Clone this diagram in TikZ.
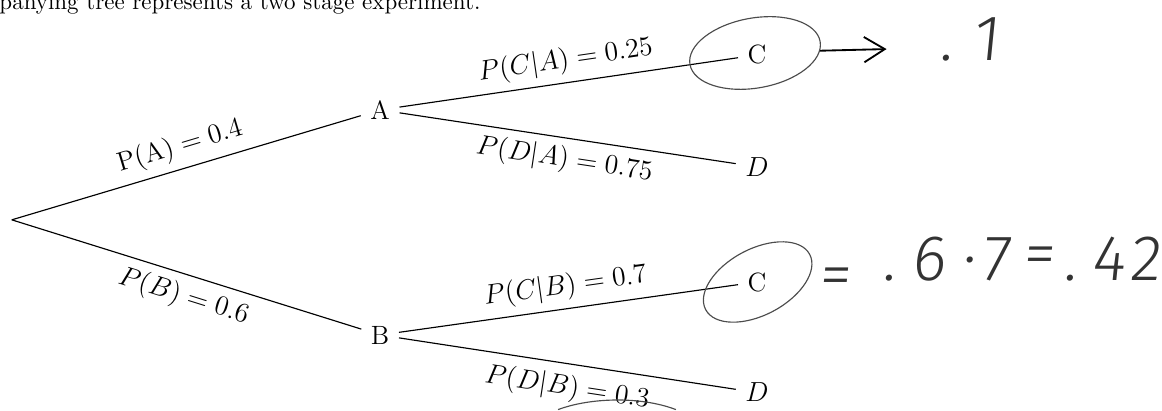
\documentclass[tikz,border=0pt]{standalone}
\usepackage{amsmath,amssymb}
\usepackage{fontspec}
\newfontfamily\handfont[UprightFont={* Light}, FakeSlant=0.1]{Fira Sans}
\usetikzlibrary{arrows.meta,shapes.geometric}

\begin{document}
\begin{tikzpicture}[>=Stealth,
    leaf/.style={inner sep=4pt, font=\fontsize{11.5}{14}\selectfont},
    branch/.style={line width=0.5pt},
    prob/.style={sloped, font=\fontsize{11.5}{14}\selectfont},
    ring/.style={draw=black!70, ellipse, line width=0.5pt},
    pencil/.style={font=\handfont\fontsize{28}{30}\selectfont, text=black!80}]
    \useasboundingbox (0, 0) rectangle (17.76, -6.27);

    % Text above the tree (cut off by the page)
    \node[anchor=base west, inner sep=0pt] (intro) at (-0.015, -0.145)
        {panying tree represents a two stage experiment.};

    % Root and first stage
    \coordinate (O) at (0.18, -3.36);
    \node[leaf] (A) at (5.81, -1.68) {A};
    \node[leaf] (B) at (5.81, -5.12) {B};
    \draw[branch] (O) -- node[prob, above] {$\mathrm{P}(\mathrm{A}) = 0.4$} (A);
    \draw[branch] (O) -- node[prob, below, pos=0.51] {$P(B) = 0.6$} (B);

    % Second stage after A
    \node[leaf] (CA) at (11.57, -0.84) {C};
    \node[leaf] (DA) at (11.57, -2.55) {$D$};
    \draw[branch] (A) -- node[prob, above] {$P(C|A) = 0.25$} (CA);
    \draw[branch] (A) -- node[prob, below, pos=0.5] {$P(D|A) = 0.75$} (DA);

    % Second stage after B
    \node[leaf] (CB) at (11.57, -4.31) {C};
    \node[leaf] (DB) at (11.57, -6.00) {$D$};
    \draw[branch] (B) -- node[prob, above] {$P(C|B) = 0.7$} (CB);
    \draw[branch] (B) -- node[prob, below, pos=0.51, yshift=-1pt] {$P(D|B) = 0.3$} (DB);

    % Pencil marks: rings round the C's
    \node[ring, minimum width=2.02cm, minimum height=1.07cm, rotate=10] (ringA) at (11.54, -0.81) {};
    \node[ring, minimum width=1.80cm, minimum height=1.01cm, rotate=28] (ringB) at (11.58, -4.31) {};

    % Arrow to the first answer
    \coordinate (tipA) at (13.55, -0.75);
    \draw[line width=0.8pt, -{Straight Barb[length=9pt, width=11pt]}] (ringA.-8) -- (tipA);
    \node[pencil, anchor=base west, inner sep=0pt] (ansA) at (14.35, -0.92) {.\hspace{8.7pt}1};

    % Second answer, spread out like the handwriting
    \node[pencil, anchor=base west, inner sep=0pt] (ansB) at (12.50, -4.28)
        {\raisebox{-7pt}{=}\hspace{14pt}.\hspace{7pt}6\hspace{7pt}·\hspace{3pt}7\hspace{5.5pt}\raisebox{2pt}{=}\hspace{4pt}.\hspace{6.5pt}4\hspace{2pt}2};

    % Arc under 0.3 (cut off by the page)
    \draw[draw=black!70, line width=0.5pt] (8.53, -6.26) .. controls (9.01, -6.08) and (9.78, -6.05) .. (10.33, -6.26);
\end{tikzpicture}
\end{document}
